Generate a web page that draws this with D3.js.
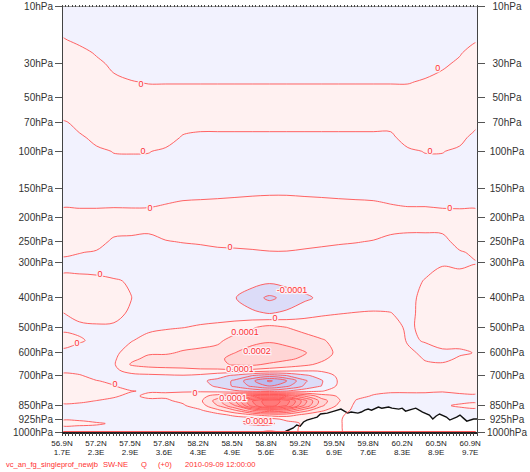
<!DOCTYPE html>
<html><head><meta charset="utf-8">
<script src="https://cdn.jsdelivr.net/npm/d3@7"></script>
<style>body{margin:0;background:#fff}svg{display:block}text{font-family:"Liberation Sans",Arial,sans-serif}</style>
</head><body><svg id="c" width="530" height="472"></svg>
<script>
// ---- data ----
const pressureLevels = [10,15,20,25,30,40,50,60,70,85,100,125,150,175,200,225,250,275,300,350,400,450,500,550,600,625,650,675,700,725,750,775,800,825,850,875,900,925,950,975,1000];
// Q increment, units of 1e-4 kg/kg; one row per pressure level, 25 columns along the section
const qField = [
[-0.4,-0.4,-0.4,-0.4,-0.4,-0.4,-0.4,-0.4,-0.4,-0.4,-0.4,-0.4,-0.4,-0.4,-0.4,-0.4,-0.4,-0.4,-0.4,-0.4,-0.4,-0.4,-0.4,-0.4,-0.4],
[-0.2,-0.3,-0.35,-0.4,-0.4,-0.4,-0.4,-0.4,-0.4,-0.4,-0.4,-0.4,-0.4,-0.4,-0.4,-0.4,-0.4,-0.4,-0.4,-0.4,-0.4,-0.4,-0.4,-0.35,-0.25],
[0.05,-0.1,-0.25,-0.3,-0.35,-0.35,-0.35,-0.35,-0.35,-0.35,-0.35,-0.35,-0.35,-0.35,-0.35,-0.35,-0.35,-0.35,-0.35,-0.35,-0.35,-0.35,-0.35,-0.25,-0.05],
[0.3,0.15,-0.05,-0.2,-0.3,-0.3,-0.3,-0.3,-0.3,-0.3,-0.3,-0.3,-0.3,-0.3,-0.3,-0.3,-0.3,-0.3,-0.3,-0.3,-0.3,-0.3,-0.25,-0.05,0.25],
[0.4,0.3,0.1,-0.1,-0.2,-0.25,-0.25,-0.25,-0.25,-0.25,-0.25,-0.25,-0.25,-0.25,-0.25,-0.25,-0.25,-0.25,-0.25,-0.25,-0.25,-0.2,-0.1,0.1,0.35],
[0.4,0.4,0.3,0.1,0.02,-0.03,-0.03,-0.03,-0.03,-0.03,-0.03,-0.03,-0.03,-0.03,-0.03,-0.03,-0.03,-0.03,-0.03,-0.03,-0.03,0.05,0.2,0.3,0.4],
[0.4,0.4,0.4,0.3,0.25,0.2,0.2,0.2,0.2,0.2,0.2,0.2,0.2,0.2,0.2,0.2,0.2,0.2,0.2,0.2,0.2,0.25,0.35,0.4,0.4],
[0.3,0.35,0.4,0.4,0.35,0.35,0.35,0.3,0.25,0.25,0.25,0.25,0.25,0.25,0.25,0.25,0.25,0.25,0.25,0.25,0.35,0.35,0.4,0.4,0.35],
[-0.1,0.2,0.3,0.35,0.35,0.35,0.3,0.2,0.15,0.15,0.15,0.15,0.15,0.15,0.15,0.15,0.15,0.15,0.15,0.15,0.3,0.35,0.35,0.3,0.1],
[-0.3,-0.1,0.15,0.25,0.25,0.25,0.2,-0.05,-0.1,-0.1,-0.1,-0.1,-0.1,-0.1,-0.1,-0.1,-0.1,-0.1,-0.1,-0.1,0.2,0.25,0.25,0.15,-0.2],
[-0.4,-0.3,-0.1,0.02,0.03,0.02,-0.08,-0.3,-0.3,-0.3,-0.3,-0.3,-0.3,-0.3,-0.3,-0.3,-0.3,-0.3,-0.3,-0.3,-0.08,0.02,0.02,-0.1,-0.35],
[-0.4,-0.4,-0.3,-0.2,-0.2,-0.2,-0.3,-0.4,-0.4,-0.4,-0.4,-0.4,-0.4,-0.4,-0.4,-0.4,-0.4,-0.4,-0.4,-0.4,-0.3,-0.2,-0.2,-0.3,-0.4],
[-0.4,-0.4,-0.4,-0.4,-0.4,-0.4,-0.4,-0.24,-0.22,-0.2,-0.17,-0.14,-0.12,-0.12,-0.13,-0.17,-0.2,-0.22,-0.24,-0.4,-0.4,-0.4,-0.4,-0.4,-0.4],
[-0.1,-0.1,-0.1,-0.1,-0.09,-0.08,-0.01,0.06,0.08,0.1,0.12,0.14,0.15,0.15,0.12,0.12,0.1,0.08,0.06,-0.01,-0.06,-0.06,-0.1,-0.11,-0.12],
[0.2,0.2,0.2,0.25,0.2,0.2,0.25,0.25,0.25,0.3,0.3,0.3,0.3,0.3,0.3,0.3,0.3,0.3,0.3,0.25,0.22,0.22,0.2,0.19,0.18],
[0.3,0.3,0.3,0.15,0.12,0.08,0.22,0.3,0.3,0.3,0.3,0.3,0.3,0.3,0.3,0.3,0.3,0.3,0.22,0.1,0.06,0.06,0.08,0.3,0.3],
[0.3,0.25,0.2,-0.1,-0.13,-0.17,-0.03,0.03,0.07,0.12,0.15,0.18,0.22,0.22,0.17,0.12,0.07,0.03,-0.03,-0.15,-0.19,-0.19,-0.17,0.2,0.3],
[0.1,0.02,-0.05,-0.3,-0.3,-0.3,-0.3,-0.22,-0.18,-0.11,-0.1,-0.07,-0.03,-0.03,-0.08,-0.13,-0.18,-0.22,-0.3,-0.3,-0.3,-0.3,-0.3,-0.05,0.1],
[-0.15,-0.15,-0.2,-0.3,-0.3,-0.3,-0.3,-0.3,-0.3,-0.3,-0.3,-0.3,-0.3,-0.3,-0.3,-0.3,-0.3,-0.3,-0.3,-0.3,-0.3,-0.3,-0.05,-0.1,-0.02],
[0.1,0.1,0.1,0.05,-0.05,-0.3,-0.3,-0.3,-0.3,-0.3,-0.4,-0.6,-0.8,-0.6,-0.5,-0.3,-0.3,-0.3,-0.3,-0.3,-0.3,0.05,0.2,0.2,0.15],
[0.2,0.25,0.25,0.2,0.01,-0.3,-0.3,-0.3,-0.4,-0.7,-0.95,-1.6,-2.2,-1.7,-1.2,-0.8,-0.4,-0.3,-0.3,-0.3,-0.25,0.25,0.3,0.3,0.3],
[-0.02,0.15,0.15,0.1,-0.05,-0.3,-0.3,-0.3,-0.4,-0.4,-0.6,-0.8,-1.05,-0.8,-0.4,-0.1,-0.02,0.02,0.05,0.02,-0.2,0.25,0.3,0.3,0.3],
[-0.1,-0.1,-0.05,-0.05,-0.2,-0.2,-0.1,-0.02,0.1,0.2,0.5,0.9,1.3,1.0,0.7,0.4,0.3,0.3,0.3,0.25,-0.1,0.15,0.25,0.25,0.25],
[0.15,0.05,-0.1,-0.15,-0.05,0.3,0.5,0.6,0.7,0.8,1.4,1.6,1.8,1.7,1.4,1.1,0.7,0.5,0.4,0.35,-0.05,0.02,0.1,0.1,0.1],
[-0.1,-0.2,-0.2,-0.2,0.4,0.9,0.9,1.1,1.2,1.4,2.0,2.6,3.05,2.4,2.1,1.4,0.8,0.6,0.4,0.35,0.1,-0.1,-0.05,-0.05,0.02],
[-0.3,-0.3,-0.3,-0.15,0.8,1.2,1.3,1.4,1.6,1.8,2.3,2.6,2.6,2.2,1.8,1.2,0.6,0.5,0.35,0.3,0.3,-0.05,-0.1,0.05,0.1],
[-0.3,-0.3,-0.3,-0.1,1.1,1.4,1.5,1.5,1.7,1.8,2.1,2.2,1.8,1.5,1.2,0.8,0.5,0.4,0.3,0.3,0.3,0.1,0.05,0.15,0.2],
[-0.15,-0.2,-0.3,-0.15,0.3,0.5,0.6,0.7,0.8,0.8,0.9,0.8,0.6,0.4,0.2,0.2,0.3,0.35,0.3,0.3,0.3,0.25,0.2,0.2,0.2],
[0.1,0.05,-0.2,-0.2,-0.2,-0.15,-0.1,-0.05,-0.2,-0.6,-1.2,-2.0,-2.5,-2.0,-1.2,-0.6,0.2,0.3,0.3,0.3,0.3,0.3,0.25,0.2,0.2],
[0.3,0.25,0.02,-0.1,-0.25,-0.25,-0.3,-0.3,-0.8,-1.3,-2.2,-3.8,-5.2,-4.0,-2.2,-1.1,0.1,0.3,0.3,0.25,0.25,0.25,0.2,0.2,0.2],
[0.3,0.3,0.2,0.02,-0.2,-0.2,-0.25,-0.3,-0.5,-1.2,-2.2,-3.2,-4.0,-3.2,-1.9,-1.0,0.2,0.3,0.25,0.2,0.2,0.2,0.15,0.15,0.15],
[0.3,0.3,0.25,0.15,0.02,-0.05,-0.05,-0.05,-0.1,-0.3,-0.8,-1.2,-1.5,-1.0,-0.4,-0.05,0.4,0.3,0.15,0.05,0.05,0.05,0.02,0.05,0.05],
[0.25,0.2,0.15,0.05,-0.1,0.1,0.1,0.2,0.6,1.5,3,4.5,5,4.5,3,1.5,0.9,0.2,-0.05,-0.1,-0.1,-0.1,-0.1,-0.05,-0.05],
[0.1,0.08,-0.01,-0.1,-0.2,-0.1,-0.1,0.15,0.8,2.5,5,8,9.8,8.5,5.5,2.5,1.1,-0.05,-0.2,-0.2,-0.2,-0.2,-0.2,-0.1,-0.1],
[-0.1,-0.1,-0.2,-0.2,-0.3,-0.3,-0.3,-0.1,0.5,2.0,4,7.5,9.6,8,5,2.2,0.8,-0.2,-0.3,-0.3,-0.3,-0.2,-0.05,0.05,0.1],
[-0.3,-0.3,-0.3,-0.3,-0.3,-0.3,-0.3,-0.3,-0.1,0.8,2,4,5.2,4.5,2.5,1.2,0.4,-0.2,-0.3,-0.3,-0.3,-0.3,-0.2,-0.1,-0.1],
[-0.3,-0.3,-0.3,-0.3,-0.3,-0.3,-0.3,-0.3,-0.3,-0.3,0.3,1,1.5,1.5,0.8,0.4,0.1,-0.2,-0.3,-0.3,-0.3,-0.3,-0.2,-0.2,-0.2],
[-0.05,-0.05,-0.15,-0.2,-0.3,-0.3,-0.3,-0.3,-0.3,-0.4,-0.6,-0.6,-0.3,0.2,0.2,0.2,0.05,-0.2,-0.3,-0.3,-0.3,-0.3,-0.2,-0.2,-0.2],
[0.1,0.1,0.05,-0.05,-0.3,-0.3,-0.3,-0.3,-0.3,-0.3,-0.8,-1.2,-1.3,-0.3,0.1,0.1,0.05,-0.2,-0.3,-0.3,-0.3,-0.3,-0.2,-0.2,-0.2],
[-0.1,-0.1,-0.1,-0.15,-0.3,-0.3,-0.3,-0.3,-0.3,-0.3,-0.4,-0.6,-0.5,-0.2,0.1,0.1,0.05,-0.2,-0.3,-0.3,-0.3,-0.3,-0.2,-0.2,-0.2],
[-0.3,-0.3,-0.3,-0.3,-0.3,-0.3,-0.3,-0.3,-0.3,-0.3,-0.2,-0.2,0.2,-0.2,0.1,0.1,0.05,-0.2,-0.3,-0.3,-0.3,-0.3,-0.2,-0.2,-0.2]
];
const contourLevels = [-6,-5,-4,-3,-2,-1,0,1,2,3,4,5,6,7,8,9];
const pressureTicks = [10,30,50,70,100,150,200,250,300,400,500,600,700,850,925,1000];
const latLabels = ["56.9N","57.2N","57.5N","57.8N","58.2N","58.5N","58.8N","59.2N","59.5N","59.8N","60.2N","60.5N","60.9N"];
const lonLabels = ["1.7E","2.3E","2.9E","3.6E","4.3E","4.9E","5.6E","6.3E","6.9E","7.6E","8.3E","8.9E","9.7E"];
const labelPoints = [0,10,20,30,40,50,60,70,80,90,100,110,120];
const orogPoint = [0,64,65,66,68,69,70,71,72,74,75,76,78,80,82,83,84,85,87,88,89,90,91,93,94,96,97,99,100,101,103,104,105,106,108,109,110,111,113,114,116,117,118,119,121,122];
const orogPressure = [1004,1004,1005,994,976,959,965,941,930,919,913,896,891,880,869,880,891,885,891,885,875,869,875,858,864,858,864,869,864,880,869,864,875,885,902,924,907,896,913,930,913,902,919,936,924,924];
const cLabelText = ["0","0","0","0","0","0","0","0","0","-0.0001","0","0.0001","0.0002","0.0001","0","0","0.0001","-0.0001"];
const cLabelPoint = [23.2,23.8,110.5,108.2,25.9,114,49.4,11.2,4.4,67.6,62.6,53.8,57.3,52.3,15.6,39.1,50.3,57.6];
const cLabelPressure = [41,100,32,100,182,183,262,330,560,375,467,518,590,670,740,785,808,936];
const footerParts = ["vc_an_fg_singleprof_newjb","SW-NE","Q","(+0)","2010-09-09 12:00:00"];

// ---- layout / scales ----
const L = 62, R = 477, T = 6;
const svg = d3.select('#c');
svg.append('rect').attr('width',530).attr('height',472).attr('fill','#fff');
const x = d3.scaleLinear().domain([0,122]).range([L,R]);
const y = d3.scalePow().exponent(0.286).domain([10,1000]).range([6,432]);
const B = y(1000) + 1;
const colToPoint = d3.scaleLinear().domain([0, qField[0].length-1]).range([0,122]);
const rowToP = d3.scaleLinear().domain(pressureLevels.map((p,i)=>i)).range(pressureLevels);

const defs = svg.append('defs');
defs.append('clipPath').attr('id','clip').append('rect')
  .attr('x',L+1).attr('y',T+0.5).attr('width',R-L-1).attr('height',B-T-1);
defs.append('clipPath').attr('id','clipIn').append('rect')
  .attr('x',L+1.6).attr('y',T+1.6).attr('width',R-L-3.2).attr('height',B-T-2.2);

const nx = qField[0].length, ny = qField.length;
const contours = d3.contours().size([nx,ny]).thresholds(contourLevels)(qField.flat());
function proj(pt){
  const c = Math.max(0, Math.min(nx-1, pt[0]-0.5));
  const r = Math.max(0, Math.min(ny-1, pt[1]-0.5));
  return [x(colToPoint(c)), y(rowToP(r))];
}
const ringLine = d3.line().curve(d3.curveCatmullRomClosed.alpha(0.5));
function pathOf(mp){
  return mp.coordinates.map(poly => poly.map(ring => ringLine(ring.slice(0,-1).map(proj))).join('')).join('');
}
const bandColors = ['#aeaeea','#babaef','#c6c6f2','#d0d0f5','#dcdcf8','#f2f2fe','#fff1f1','#ffe3e3','#ffd5d5','#ffc8c8','#ffbaba','#ffadad','#ffa0a0','#ff9393','#ff8686','#ff7a7a'];

const g = svg.append('g').attr('clip-path','url(#clip)');
g.append('rect').attr('x',L).attr('y',T).attr('width',R-L).attr('height',B-T).attr('fill','#a4a4e6');
g.selectAll('path.fill').data(contours).join('path').attr('class','fill')
  .attr('d', d => pathOf(d)).attr('fill', (d,i) => bandColors[i]).attr('fill-rule','evenodd');
const gl = svg.append('g').attr('clip-path','url(#clipIn)');
gl.selectAll('path.iso').data(contours).join('path').attr('class','iso')
  .attr('d', d => pathOf(d)).attr('fill','none').attr('stroke','#ff5252').attr('stroke-width',0.9);

// contour labels
gl.selectAll('text.cl').data(cLabelText).join('text').attr('class','cl')
  .attr('x',(d,i)=>x(cLabelPoint[i])).attr('y',(d,i)=>y(cLabelPressure[i]))
  .attr('dy','0.35em').attr('text-anchor','middle').attr('font-size',9)
  .attr('fill','#ff3333').attr('stroke','#fbf1f7').attr('stroke-width',2.5)
  .attr('paint-order','stroke').text(d=>d);

// orography
const orog = orogPoint.map((p,i)=>[x(p), y(orogPressure[i])]);
g.append('path').attr('d', d3.area().x(d=>d[0]).y0(B+10).y1(d=>d[1])(orog)).attr('fill','#fff');
g.append('path').attr('d', d3.line()(orog)).attr('fill','none').attr('stroke','#111').attr('stroke-width',1.4);

// frame
const fr = svg.append('g').attr('shape-rendering','crispEdges');
fr.append('line').attr('x1',L+0.5).attr('x2',L+0.5).attr('y1',T).attr('y2',B).attr('stroke','#444');
fr.append('line').attr('x1',R+0.5).attr('x2',R+0.5).attr('y1',T).attr('y2',B).attr('stroke','#444');
fr.append('line').attr('x1',L).attr('x2',R).attr('y1',T+0.5).attr('y2',T+0.5).attr('stroke','#999');
fr.append('line').attr('x1',L).attr('x2',R+1).attr('y1',B).attr('y2',B).attr('stroke','#222').attr('stroke-width',1.2);
const sectionPts = d3.range(0,123);
fr.selectAll('line.tt').data(sectionPts).join('line').attr('class','tt')
  .attr('x1',d=>x(d)).attr('x2',d=>x(d)).attr('y1',T-1.5).attr('y2',T+0.5).attr('stroke','#444');
fr.selectAll('line.bt').data(sectionPts).join('line').attr('class','bt')
  .attr('x1',d=>x(d)).attr('x2',d=>x(d)).attr('y1',B).attr('y2',B+2.5).attr('stroke','#444');

// pressure axes
fr.selectAll('line.lt').data(pressureTicks).join('line').attr('class','lt')
  .attr('x1',L-7).attr('x2',L).attr('y1',d=>y(d)).attr('y2',d=>y(d)).attr('stroke','#555');
fr.selectAll('line.rt').data(pressureTicks).join('line').attr('class','rt')
  .attr('x1',R).attr('x2',R+8).attr('y1',d=>y(d)).attr('y2',d=>y(d)).attr('stroke','#555');
svg.selectAll('text.ll').data(pressureTicks).join('text').attr('class','ll')
  .attr('x',L-9).attr('y',d=>y(d)).attr('dy','0.35em').attr('text-anchor','end')
  .attr('font-size',10).attr('fill','#333').text(d=>d+'hPa');
svg.selectAll('text.rl').data(pressureTicks).join('text').attr('class','rl')
  .attr('x',R+30).attr('y',d=>y(d)).attr('dy','0.35em').attr('text-anchor','middle')
  .attr('font-size',10).attr('fill','#333').text(d=>d+'hPa');

// section labels
svg.selectAll('text.lat').data(latLabels).join('text').attr('class','lat')
  .attr('x',(d,i)=>x(labelPoints[i])).attr('y',446).attr('text-anchor','middle')
  .attr('font-size',8).attr('fill','#222').text(d=>d);
svg.selectAll('text.lon').data(lonLabels).join('text').attr('class','lon')
  .attr('x',(d,i)=>x(labelPoints[i])).attr('y',455).attr('text-anchor','middle')
  .attr('font-size',8).attr('fill','#222').text(d=>d);

// footer
const footX = [6,103,141,158,185];
svg.selectAll('text.ft').data(footerParts).join('text').attr('class','ft')
  .attr('x',(d,i)=>footX[i]).attr('y',467).attr('font-size',7.6).attr('fill','#ff3030').text(d=>d);
</script></body></html>
